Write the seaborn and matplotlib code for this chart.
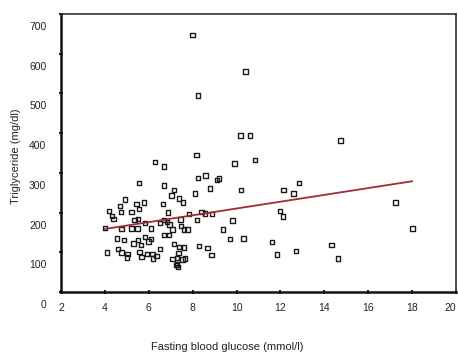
import numpy as np
import pandas as pd
import seaborn as sns
import matplotlib.pyplot as plt
import matplotlib.transforms as mtransforms

# fasting blood glucose (mmol/l) and triglyceride (mg/dl)
glucose = [8.0, 10.4, 8.23, 10.18, 10.62, 14.73, 8.18, 9.9, 10.83, 6.29,
           6.7, 9.21, 9.12, 8.24, 8.58, 5.55, 6.7, 8.79, 7.15, 7.03,
           7.39, 7.55, 8.1, 10.2, 12.14, 12.85, 12.6, 11.97, 12.12, 9.82,
           9.38, 9.7, 10.32, 11.62, 11.83, 12.7, 14.33, 14.62, 17.24, 18.01,
           8.4, 8.55, 8.88, 8.21, 7.82, 7.45, 7.48, 7.6, 7.76, 8.29,
           8.67, 8.85, 7.15, 7.6, 7.09, 7.53, 7.23, 6.88, 6.7, 6.82,
           7.09, 6.7, 6.91, 4.91, 5.79, 6.65, 4.7, 5.44, 5.56, 4.73,
           5.21, 4.18, 4.33, 4.39, 5.35, 5.51, 5.82, 6.5, 6.94, 5.21,
           4.76, 4.0, 5.49, 6.09, 4.55, 4.86, 5.3, 5.51, 5.65, 5.82,
           5.99, 6.09, 4.09, 4.6, 4.76, 5.03, 5.01, 5.58, 5.67, 5.91,
           6.17, 6.35, 6.18, 6.5, 7.38, 7.36, 7.3, 7.64, 7.29, 7.33]
triglyceride = [647, 555, 495, 394, 394, 381, 345, 324, 332, 328,
                316, 286, 282, 287, 293, 275, 268, 261, 257, 243,
                236, 226, 248, 257, 257, 274, 248, 204, 190, 180,
                158, 133, 135, 126, 95, 104, 119, 85, 226, 160,
                202, 198, 196, 181, 196, 183, 167, 158, 158, 116,
                111, 93, 121, 112, 84, 82, 68, 200, 181, 177,
                158, 144, 144, 233, 226, 222, 217, 221, 209, 201,
                201, 204, 191, 184, 181, 184, 174, 174, 170, 160,
                159, 161, 160, 160, 135, 131, 122, 131, 118, 138,
                127, 133, 100, 108, 100, 96, 87, 101, 89, 96,
                96, 91, 85, 108, 114, 99, 86, 85, 70, 64]

# regression line end points as drawn in the figure
fit_x = [4.0, 18.0]
fit_y = [159, 279]

x_ticks = [2, 4, 6, 8, 10, 12, 14, 16, 18, 20]
y_ticks = [0, 100, 200, 300, 400, 500, 600, 700]

df = pd.DataFrame({"glucose": glucose, "tg": triglyceride})

sns.set_style("ticks")
plt.rcParams["font.family"] = ["Liberation Sans", "DejaVu Sans"]

fig = plt.figure(figsize=(4.58, 3.55), dpi=100)
ax = fig.add_axes([0.133, 0.177, 0.863, 0.784])

sns.scatterplot(data=df, x="glucose", y="tg", marker="s", s=10,
                facecolors="none", edgecolors="#1a1a1a", linewidths=1.0, ax=ax)
sns.lineplot(x=fit_x, y=fit_y, color="#a02a33", lw=1.3, ax=ax)

ax.set_xlim(2, 20)
ax.set_ylim(0, 700)
ax.set_xticks(x_ticks)
ax.set_yticks(y_ticks)
ax.tick_params(direction="inout", length=3, width=1.5, colors="#222222",
               labelsize=7.5, pad=6)
ax.tick_params(axis="y", pad=9)

# y tick labels sit a bit below their ticks in the original
off = mtransforms.ScaledTranslation(0, -12 / 100, fig.dpi_scale_trans)
for lab in ax.get_yticklabels():
    lab.set_transform(lab.get_transform() + off)
ax.get_xticklabels()[-1].set_ha("right")

for side in ["left", "bottom"]:
    ax.spines[side].set_linewidth(1.8)
    ax.spines[side].set_color("#111111")
for side in ["top", "right"]:
    ax.spines[side].set_linewidth(1.2)
    ax.spines[side].set_color("#333333")

ax.set_xlabel("Fasting blood glucose (mmol/l)", fontsize=8, color="#222222")
ax.set_ylabel("Triglyceride (mg/dl)", fontsize=8, color="#222222")
ax.xaxis.set_label_coords(0.42, -0.18)
ax.yaxis.set_label_coords(-0.10, 0.49)

fig.savefig("out.png", dpi=100)
